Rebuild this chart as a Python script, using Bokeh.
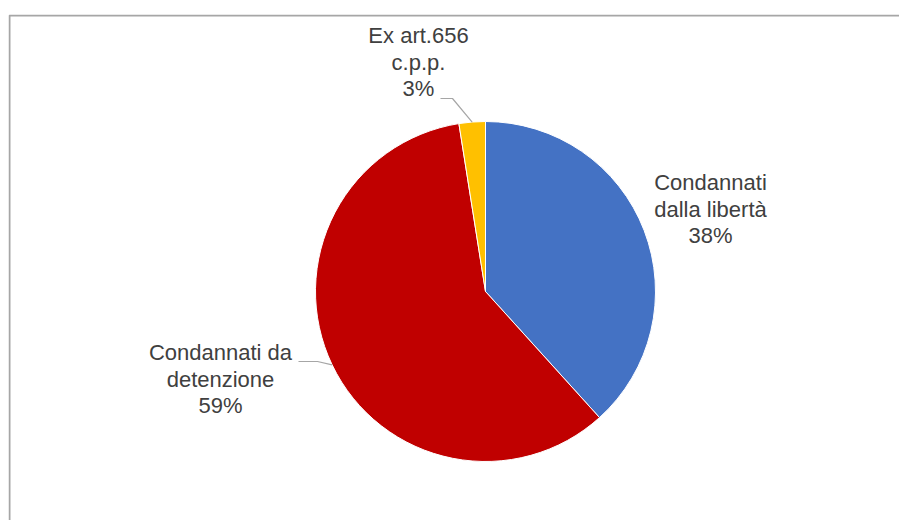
import math
from bokeh.plotting import figure
from bokeh.models import Range1d, ColumnDataSource
from bokeh.core.properties import value
from bokeh.embed import file_html
from bokeh.resources import INLINE

# ---- data ----
categories = ["Condannati dalla libertà", "Condannati da detenzione", "Ex art.656 c.p.p."]
shares = [38.3, 59.2, 2.5]
pct_labels = ["38%", "59%", "3%"]
label_lines = [["Condannati", "dalla libertà"], ["Condannati da", "detenzione"], ["Ex art.656", "c.p.p."]]
colors = ["#4472C4", "#C00000", "#FFC000"]

# ---- layout ----
R = 170
W, H = 899, 520
X0, X1, Y0, Y1 = -477, 414, -229, 277
p = figure(width=W, height=H, output_backend="svg", toolbar_location=None,
           x_axis_type=None, y_axis_type=None,
           x_range=Range1d(X0, X1), y_range=Range1d(Y0, Y1),
           min_border_left=8, min_border_right=0, min_border_bottom=0, min_border_top=14)
p.grid.visible = False
p.outline_line_color = None
p.background_fill_color = "white"
p.border_fill_color = "white"

# chart-area border (top and left edges visible, as in the cropped original)
p.line(x=[X0 + 1, X0 + 1, X1], y=[Y0, Y1 - 1, Y1 - 1], line_color="#a6a6a6", line_width=2)

total = sum(shares)
starts, ends, mids = [], [], []
cum = 0.0
for s in shares:
    a0 = math.pi / 2 - cum / total * 2 * math.pi
    cum += s
    a1 = math.pi / 2 - cum / total * 2 * math.pi
    starts.append(a1)
    ends.append(a0)
    mids.append((a0 + a1) / 2)

src = ColumnDataSource(dict(start=starts, end=ends, color=colors, cat=categories))
p.wedge(x=0, y=0, radius=R, start_angle="start", end_angle="end", direction="anticlock",
        fill_color="color", line_color="white", line_width=1, source=src)

# label anchors (centre x, first line y) in chart units relative to pie centre
anchors = [(225, 109), (-265, -61), (-67, 256)]
line_h = 26.5
fs = "22px"
for i in range(3):
    ax, ay = anchors[i]
    lines = label_lines[i] + [pct_labels[i]]
    xs = [ax] * len(lines)
    ys = [ay - k * line_h for k in range(len(lines))]
    p.text(x=xs, y=ys, text=lines, text_align="center", text_baseline="middle",
           text_font=value("Liberation Sans"), text_font_size=fs, text_color="#404040")

# leader lines for the two outer labels
leaders = {2: (-45, -33, 193), 1: (-187, -168, -70)}
for i, (x0, x1, yy) in leaders.items():
    ex = R * math.cos(mids[i])
    ey = R * math.sin(mids[i])
    p.line(x=[x0, x1, ex], y=[yy, yy, ey], line_color="#a6a6a6", line_width=1.2)

open("out.html", "w").write(file_html(p, INLINE))
